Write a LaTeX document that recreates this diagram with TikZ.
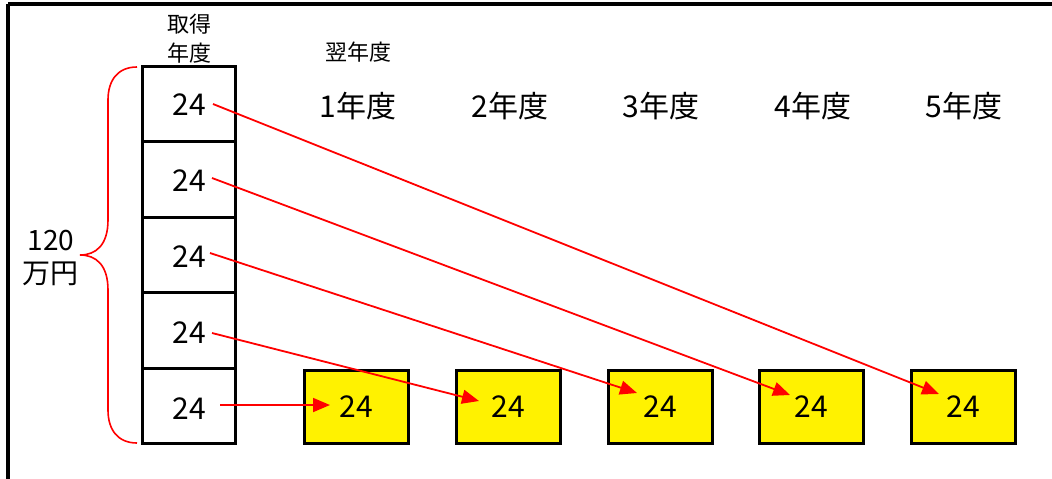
\documentclass[tikz,border=0pt]{standalone}
\usepackage{fontspec}
\setmainfont{Noto Sans CJK JP}
\usetikzlibrary{arrows.meta}
\begin{document}
\begin{tikzpicture}[x=1pt,y=-1pt,
  cell/.style={draw=black,line width=3pt,minimum width=93pt,minimum height=75.4pt,inner sep=0pt,font=\fontsize{30}{32}\selectfont},
  ybox/.style={cell,fill=yellow,minimum width=104pt,minimum height=73pt},
  lbl/.style={inner sep=0pt,font=\fontsize{30}{32}\selectfont},
  small/.style={inner sep=0pt,align=center,font=\fontsize{22}{29}\selectfont},
  arr/.style={draw=red,line width=1.8pt,-{Triangle[length=17pt,width=14pt]}},
  brace/.style={draw=red,line width=1.6pt}]
\useasboundingbox (0,0) rectangle (1052,479);
% frame
\draw[line width=3.5pt] (8,4) -- (1052,4);
\draw[line width=3.5pt] (8,4) -- (8,479);
% left column
\node[cell] (l1) at (189,104.2) {};
\node[cell] (l2) at (189,179.6) {};
\node[cell] (l3) at (189,255.0) {};
\node[cell] (l4) at (189,330.4) {};
\node[cell] (l5) at (189,405.8) {};
\foreach \i/\y in {1/105,2/181,3/257,4/333,5/409}{
  \node[lbl] (t\i) at (189,\y) {24};
}
% yellow boxes
\node[ybox] (y1) at (356.5,407) {24};
\node[ybox] (y2) at (508,407) {24};
\node[ybox] (y3) at (660,407) {24};
\node[ybox] (y4) at (811,407) {24};
\node[ybox] (y5) at (963.5,407) {24};
% headers
\node[small] (hdA) at (189,39) {取得\\年度};
\node[small] (hdB) at (358,52) {翌年度};
\node[lbl] (yr1) at (358,106) {1年度};
\node[lbl] (yr2) at (510,106) {2年度};
\node[lbl] (yr3) at (661,106) {3年度};
\node[lbl] (yr4) at (813,106) {4年度};
\node[lbl] (yr5) at (964,106) {5年度};
\node[lbl,align=center,font=\fontsize{28}{33}\selectfont] (tot) at (51,258) {120\\万円};
% brace
\draw[brace] (137,67) .. controls (118,67) and (108,80) .. (108,100)
  -- (108,220) .. controls (108,245) and (96,255) .. (80,255)
  .. controls (96,255) and (108,265) .. (108,290)
  -- (108,410) .. controls (108,430) and (118,443) .. (137,443);
% arrow coordinates
\coordinate (s1) at (213,104);
\coordinate (s2) at (212,178);
\coordinate (s3) at (210,253);
\coordinate (s4) at (212,333);
\coordinate (s5) at (220,405);
\coordinate (e1) at (939,394);
\coordinate (e2) at (790,395);
\coordinate (e3) at (637,393);
\coordinate (e4) at (479,401);
\coordinate (e5) at (330,405);
\draw[arr] (s1) -- (e1);
\draw[arr] (s2) -- (e2);
\draw[arr] (s3) -- (e3);
\draw[arr] (s4) -- (e4);
\draw[arr] (s5) -- (e5);
\end{tikzpicture}
\end{document}
